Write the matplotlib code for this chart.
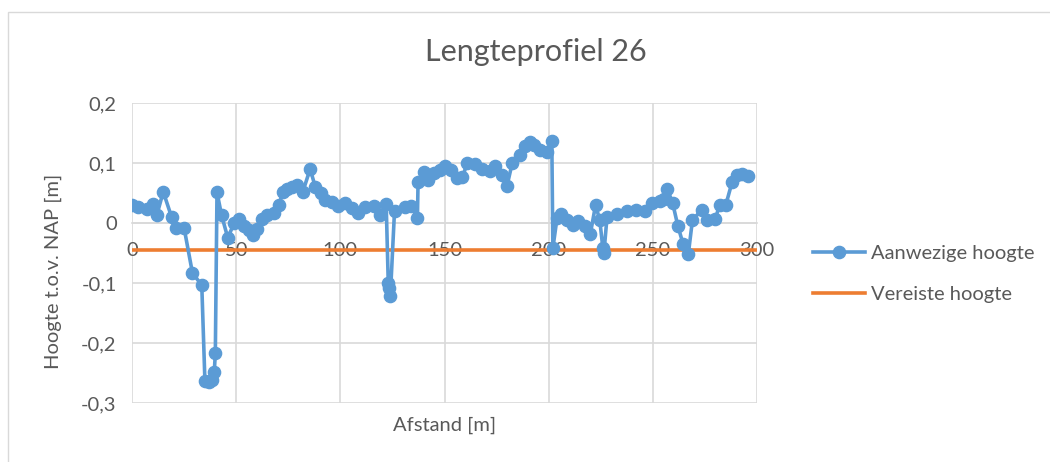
import matplotlib.pyplot as plt
from matplotlib.patches import Rectangle

# Lengteprofiel 26 - gemeten hoogte langs het profiel
afstand = [0, 3, 7, 10, 12, 15, 19, 21, 25, 29, 33.5, 35, 37, 38.5, 39.5, 40, 40.8,
           43, 46, 49, 51.5, 54, 56, 58, 60, 62.5, 65, 68, 70.5, 72.5, 74.5, 77, 79,
           82, 85.5, 88, 90.5, 92.5, 96, 99, 102, 105.5, 108.5, 112, 116, 119, 122,
           123, 123.5, 124, 126, 131, 134, 137, 137.3, 140, 142, 145, 148, 150, 153,
           156, 158.5, 161, 164.5, 168, 172, 174, 177.5, 180, 182.5, 186, 188.5, 191,
           193, 196, 199, 201.5, 202, 204, 206, 209, 211.5, 214, 217.5, 220, 222.5,
           224.5, 226, 226.5, 228, 233, 237.5, 242, 246, 249.5, 253.5, 255.5, 257,
           259.5, 262, 264.5, 267, 269, 273.5, 276, 280, 282, 285, 288, 290.5, 293,
           295.5]
hoogte = [0.03, 0.027, 0.023, 0.032, 0.014, 0.052, 0.01, -0.008, -0.008, -0.083,
          -0.104, -0.263, -0.265, -0.262, -0.248, -0.217, 0.051,
          0.013, -0.025, 0.0, 0.007, -0.005, -0.012, -0.02, -0.01, 0.007, 0.014,
          0.017, 0.03, 0.052, 0.056, 0.06, 0.063,
          0.052, 0.09, 0.06, 0.05, 0.038, 0.035, 0.028, 0.034, 0.025, 0.016, 0.026,
          0.029, 0.013, 0.032,
          -0.1, -0.108, -0.122, 0.02, 0.026, 0.029, 0.008, 0.068, 0.085, 0.072,
          0.083, 0.088, 0.095, 0.088,
          0.075, 0.076, 0.1, 0.099, 0.09, 0.087, 0.095, 0.08, 0.062, 0.1, 0.113,
          0.128, 0.135,
          0.13, 0.122, 0.118, 0.137, -0.042, 0.008, 0.015, 0.005, -0.003, 0.003,
          -0.005, -0.018, 0.03,
          0.005, -0.042, -0.05, 0.01, 0.015, 0.02, 0.022, 0.02, 0.033, 0.037, 0.04,
          0.056,
          0.033, -0.005, -0.035, -0.052, 0.005, 0.022, 0.005, 0.007, 0.03, 0.03,
          0.068, 0.08, 0.082,
          0.078]
vereist_x = [0, 300]
vereist_y = [-0.045, -0.045]

x_ticks = [0, 50, 100, 150, 200, 250, 300]
y_ticks = [-0.3, -0.2, -0.1, 0, 0.1, 0.2]
y_labels = ['-0,3', '-0,2', '-0,1', '0', '0,1', '0,2']

plt.rcParams['font.family'] = ['Lato', 'DejaVu Sans']
grey = '#595959'
grid = '#d9d9d9'
fs = 14.5

fig = plt.figure(figsize=(10.5, 4.62), dpi=100)
fig.patches.append(Rectangle((0.008, -0.01), 1.1, 0.984, transform=fig.transFigure,
                             fill=False, edgecolor=grid, linewidth=1))
ax = fig.add_axes([0.1257, 0.1277, 0.5953, 0.6494])

ax.plot(afstand, hoogte, color='#5B9BD5', linewidth=2.6, marker='o',
        markersize=8.8, label='Aanwezige hoogte', zorder=3)
ax.plot(vereist_x, vereist_y, color='#ED7D31', linewidth=2.6,
        label='Vereiste hoogte', zorder=2)

ax.set_xlim(0, 300)
ax.set_ylim(-0.3, 0.2)
ax.set_xticks(x_ticks)
ax.set_yticks(y_ticks)
ax.set_yticklabels(y_labels)
ax.grid(True, color=grid, linewidth=1.2)
ax.set_axisbelow(True)
for side in ['top', 'right', 'left']:
    ax.spines[side].set_visible(False)
ax.spines['bottom'].set_position(('data', 0))
ax.spines['bottom'].set_color(grid)
ax.spines['bottom'].set_linewidth(1.2)
ax.spines['bottom'].set_zorder(0.5)
ax.tick_params(axis='both', length=0, labelsize=fs, labelcolor=grey)
ax.tick_params(axis='x', pad=14)
ax.tick_params(axis='y', pad=11)

fig.text(0.51, 0.888, 'Lengteprofiel 26', fontsize=22, color=grey,
         ha='center', va='center')
ax.set_xlabel('Afstand [m]', fontsize=fs, color=grey)
ax.xaxis.set_label_coords(0.5, -0.045)
ax.set_ylabel('Hoogte t.o.v. NAP [m]', fontsize=fs, color=grey)
ax.yaxis.set_label_coords(-0.112, 0.44)

ax.legend(loc='upper left', bbox_to_anchor=(0.757, 0.51), bbox_transform=fig.transFigure,
          frameon=False, fontsize=fs, labelcolor=grey, handlelength=2.6,
          handletextpad=0.3, labelspacing=1.2)

fig.savefig('out.png', dpi=100)
